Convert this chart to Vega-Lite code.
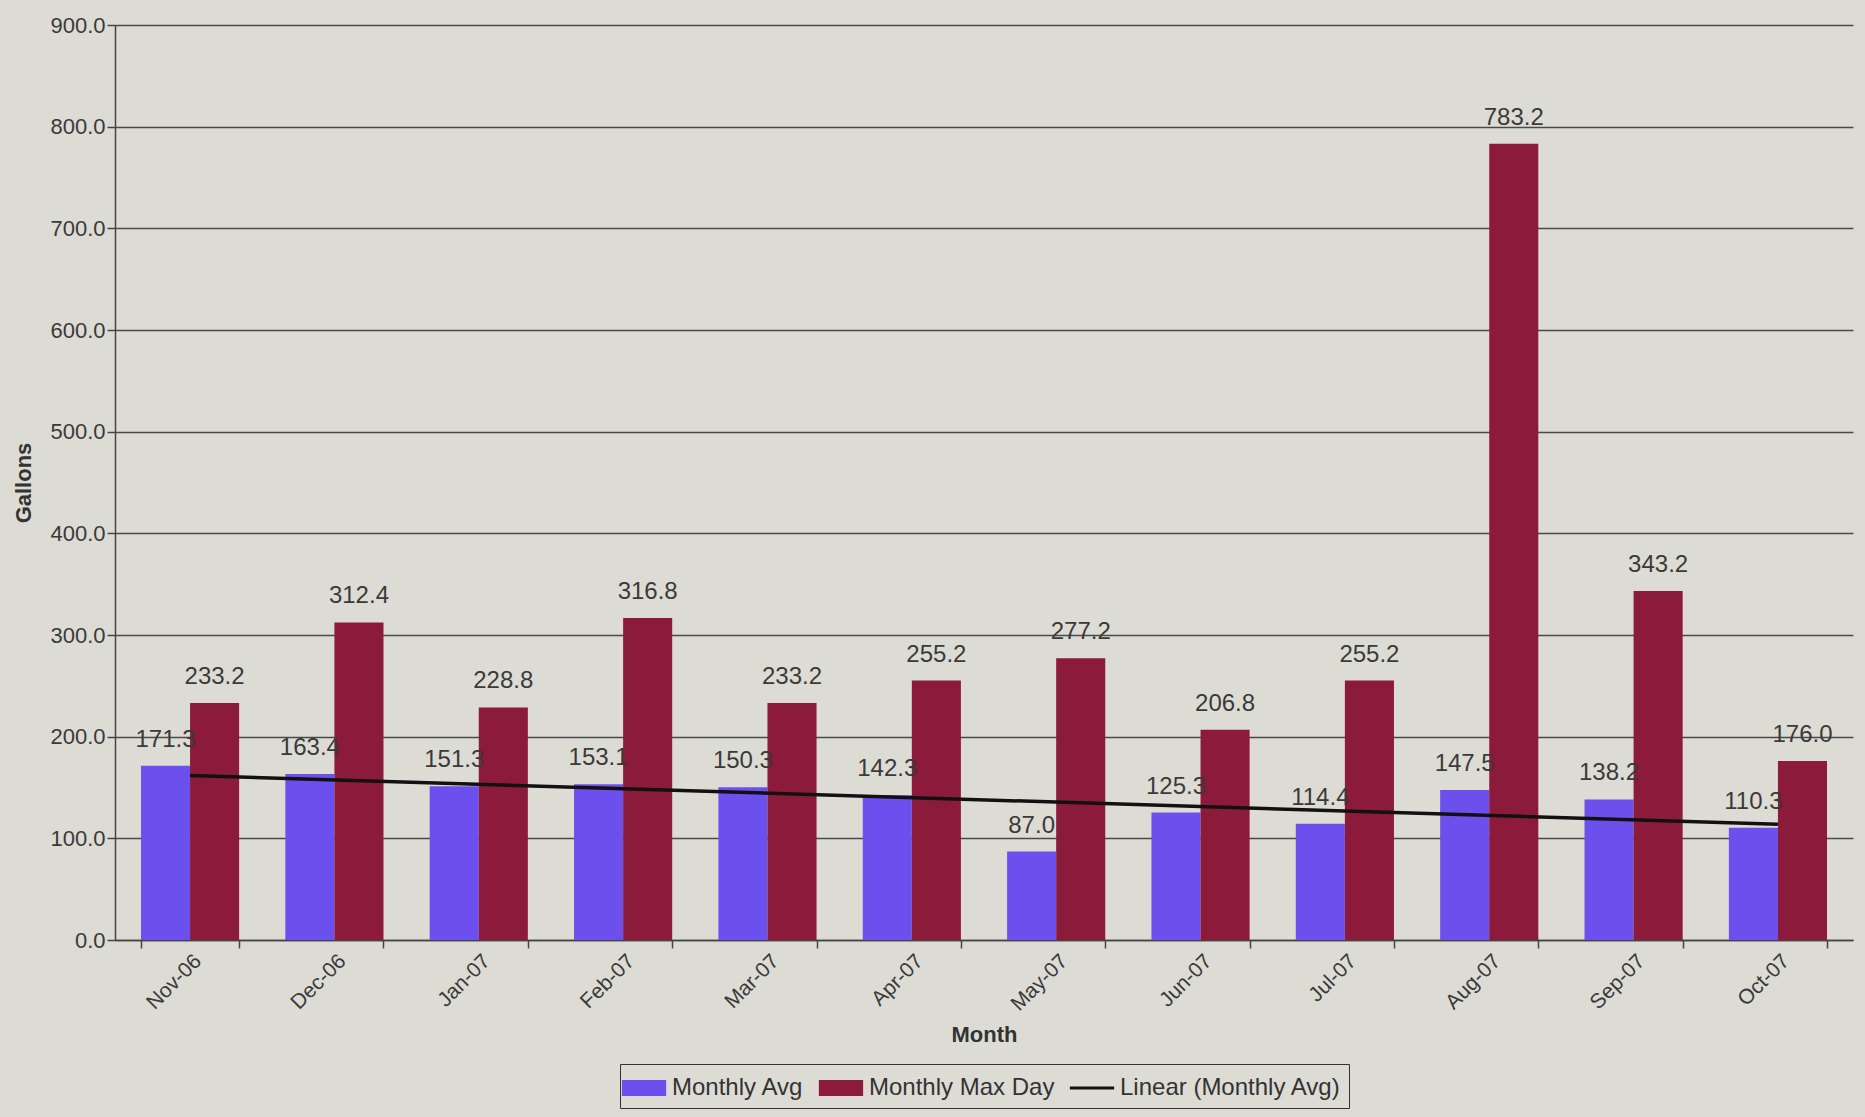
{
  "$schema": "https://vega.github.io/schema/vega-lite/v6.json",
  "width": 1865,
  "height": 1117,
  "autosize": {"type": "fit", "contains": "padding"},
  "padding": {"left": 12, "right": 12, "top": 14, "bottom": 8},
  "background": "#dddcd4",
  "config": {
    "font": "Liberation Sans",
    "view": {"stroke": null},
    "axis": {
      "labelFont": "Liberation Sans",
      "labelFontSize": 22,
      "labelColor": "#3a3a3a",
      "titleFont": "Liberation Sans",
      "titleFontSize": 22,
      "titleFontWeight": "bold",
      "titleColor": "#333333",
      "domainColor": "#444444",
      "domainWidth": 1.5,
      "tickColor": "#444444",
      "tickWidth": 1.5,
      "tickSize": 8
    },
    "legend": {
      "labelFont": "Liberation Sans",
      "labelFontSize": 24,
      "labelColor": "#333333",
      "labelLimit": 0,
      "layout": {"bottom": {"anchor": "middle", "direction": "horizontal"}}
    }
  },
  "datasets": {
    "usage": [
      {"month": "Nov-06", "idx": 1, "Monthly Avg": 171.3, "Monthly Max Day": 233.2},
      {"month": "Dec-06", "idx": 2, "Monthly Avg": 163.4, "Monthly Max Day": 312.4},
      {"month": "Jan-07", "idx": 3, "Monthly Avg": 151.3, "Monthly Max Day": 228.8},
      {"month": "Feb-07", "idx": 4, "Monthly Avg": 153.1, "Monthly Max Day": 316.8},
      {"month": "Mar-07", "idx": 5, "Monthly Avg": 150.3, "Monthly Max Day": 233.2},
      {"month": "Apr-07", "idx": 6, "Monthly Avg": 142.3, "Monthly Max Day": 255.2},
      {"month": "May-07", "idx": 7, "Monthly Avg": 87.0, "Monthly Max Day": 277.2},
      {"month": "Jun-07", "idx": 8, "Monthly Avg": 125.3, "Monthly Max Day": 206.8},
      {"month": "Jul-07", "idx": 9, "Monthly Avg": 114.4, "Monthly Max Day": 255.2},
      {"month": "Aug-07", "idx": 10, "Monthly Avg": 147.5, "Monthly Max Day": 783.2},
      {"month": "Sep-07", "idx": 11, "Monthly Avg": 138.2, "Monthly Max Day": 343.2},
      {"month": "Oct-07", "idx": 12, "Monthly Avg": 110.3, "Monthly Max Day": 176.0}
    ]
  },
  "data": {"name": "usage"},
  "layer": [
    {
      "transform": [{"fold": ["Monthly Avg", "Monthly Max Day"], "as": ["series", "gallons"]}],
      "mark": {"type": "bar"},
      "encoding": {
        "x": {
          "field": "month", "type": "nominal",
          "sort": ["Nov-06", "Dec-06", "Jan-07", "Feb-07", "Mar-07", "Apr-07", "May-07", "Jun-07", "Jul-07", "Aug-07", "Sep-07", "Oct-07"],
          "scale": {"paddingInner": 0.32, "paddingOuter": 0.18},
          "title": "Month",
          "axis": {"labelAngle": -45, "labelFontSize": 21, "ticks": true, "tickBand": "extent", "titlePadding": 10}
        },
        "xOffset": {"field": "series", "type": "nominal", "sort": ["Monthly Avg", "Monthly Max Day"]},
        "y": {
          "field": "gallons", "type": "quantitative",
          "scale": {"domain": [0, 900]},
          "title": "Gallons",
          "axis": {
            "values": [0, 100, 200, 300, 400, 500, 600, 700, 800, 900],
            "format": ".1f",
            "gridColor": "#4a4a4a",
            "gridWidth": 1.3,
            "titlePadding": 14
          }
        },
        "color": {
          "field": "series", "type": "nominal",
          "scale": {
            "domain": ["Monthly Avg", "Monthly Max Day", "Linear (Monthly Avg)"],
            "range": ["#6b50ee", "#8c1b3b", "#111111"]
          },
          "legend": {
            "title": null, "orient": "bottom", "direction": "horizontal",
            "symbolType": {"expr": "datum.value === 'Linear (Monthly Avg)' ? 'M-1.4,-0.1H1.4V0.1H-1.4Z' : 'M-1.4,-0.5H1.4V0.5H-1.4Z'"},
            "symbolSize": 1000,
            "symbolStrokeWidth": 0,
            "symbolOpacity": 1,
            "labelOffset": 12,
            "columnPadding": 14,
            "strokeColor": "#333333",
            "padding": 8
          }
        }
      }
    },
    {
      "transform": [{"fold": ["Monthly Avg", "Monthly Max Day"], "as": ["series", "gallons"]}],
      "mark": {"type": "text", "baseline": "bottom", "dy": -14, "fontSize": 24, "color": "#3a3a3a"},
      "encoding": {
        "x": {"field": "month", "type": "nominal",
          "sort": ["Nov-06", "Dec-06", "Jan-07", "Feb-07", "Mar-07", "Apr-07", "May-07", "Jun-07", "Jul-07", "Aug-07", "Sep-07", "Oct-07"]},
        "xOffset": {"field": "series", "type": "nominal", "sort": ["Monthly Avg", "Monthly Max Day"]},
        "y": {"field": "gallons", "type": "quantitative"},
        "text": {"field": "gallons", "type": "quantitative", "format": ".1f"}
      }
    },
    {
      "transform": [
        {"regression": "Monthly Avg", "on": "idx"},
        {"lookup": "idx", "from": {"data": {"name": "usage"}, "key": "idx", "fields": ["month"]}}
      ],
      "mark": {"type": "line", "strokeWidth": 3.5},
      "encoding": {
        "x": {"field": "month", "type": "nominal",
          "sort": ["Nov-06", "Dec-06", "Jan-07", "Feb-07", "Mar-07", "Apr-07", "May-07", "Jun-07", "Jul-07", "Aug-07", "Sep-07", "Oct-07"]},
        "y": {"field": "Monthly Avg", "type": "quantitative"},
        "color": {"datum": "Linear (Monthly Avg)"}
      }
    }
  ]
}
